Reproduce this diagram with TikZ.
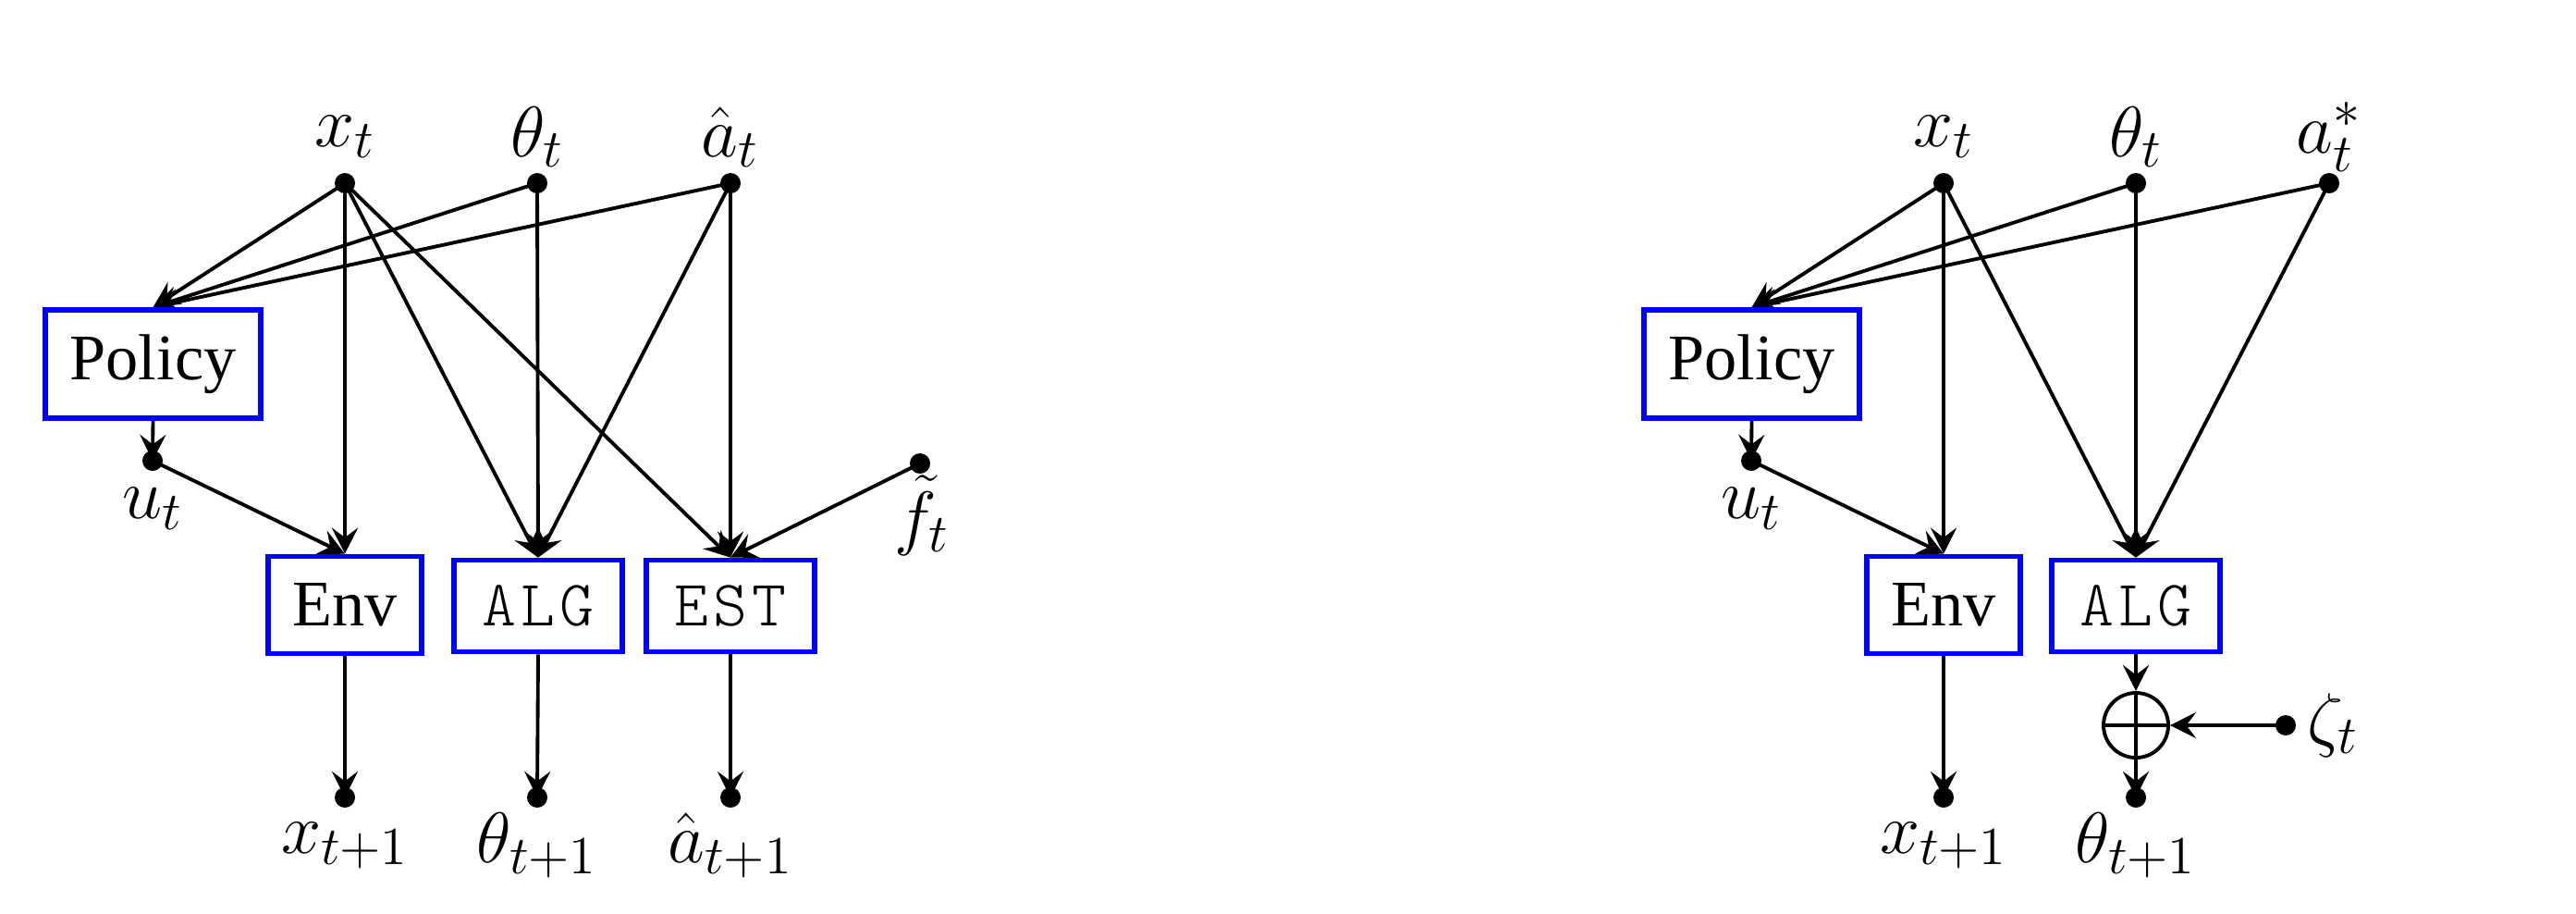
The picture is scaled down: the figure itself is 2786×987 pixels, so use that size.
\RequirePackage{fix-cm}
\documentclass[tikz,border=0pt]{standalone}
\usepackage[no-math]{fontspec}
\setmainfont{Liberation Serif}
\setmonofont{lmmonolt10-regular.otf}[LetterSpace=7]
\DeclareMathSizes{22}{22}{16.5}{12}
\usetikzlibrary{arrows.meta}
\pgfdeclarelayer{bg}
\pgfsetlayers{bg,main}
\begin{document}
\begin{tikzpicture}[x=0.01cm,y=-0.01cm,
  every node/.style={font=\fontsize{20}{24}\selectfont},
  dotn/.style={circle,fill=black,inner sep=0pt,minimum size=0.22cm},
  lab/.style={inner sep=0pt,font=\fontsize{22}{26}\selectfont},
  box/.style={draw=blue,line width=1.6pt,fill=white,inner sep=0pt},
  polbox/.style={box,minimum width=2.33cm,minimum height=1.17cm},
  envbox/.style={box,minimum width=1.66cm,minimum height=1.05cm},
  algbox/.style={box,minimum width=1.82cm,minimum height=0.99cm,font=\fontsize{20}{24}\selectfont\ttfamily},
  conn/.style={-{Stealth[length=8pt,width=8pt,inset=3pt]},line width=1.1pt},
  opl/.style={circle,draw,line width=1.1pt,inner sep=0pt,minimum size=0.7cm}]
\useasboundingbox (0,0) rectangle (2786,987);

% ---------------- left diagram ----------------
\node[dotn] (xt) at (373,198) {};
\node[dotn] (tt) at (581,198) {};
\node[dotn] (at) at (790,198) {};
\node[lab] (lxt) at (373,148) {$x_t$};
\node[lab] (ltt) at (581,148) {$\theta_t$};
\node[lab] (lat) at (790,148) {$\hat a_t$};
\node[polbox] (pol) at (165.5,393.5) {Policy};
\node[dotn] (ut) at (165,498) {};
\node[lab] (lut) at (165,550) {$u_t$};
\node[envbox] (env) at (373,654) {Env};
\node[algbox] (alg) at (582,655) {ALG};
\node[algbox] (est) at (790,655) {EST};
\node[dotn] (ft) at (995,501) {};
\node[lab] (lft) at (997,557) {$\tilde f_t$};
\node[dotn] (xn) at (373,862) {};
\node[dotn] (tn) at (581,862) {};
\node[dotn] (an) at (790,862) {};
\node[lab] (lxn) at (373,914) {$x_{t+1}$};
\node[lab] (ltn) at (581,914) {$\theta_{t+1}$};
\node[lab] (lan) at (790,914) {$\hat a_{t+1}$};

\begin{pgfonlayer}{bg}
\draw[conn] (xt.center) -- (pol.north);
\draw[conn] (tt.center) -- (pol.north);
\draw[conn] (at.center) -- (pol.north);
\draw[conn] (xt.center) -- (env.north);
\draw[conn] (xt.center) -- (alg.north);
\draw[conn] (tt.center) -- (alg.north);
\draw[conn] (at.center) -- (alg.north);
\draw[conn] (xt.center) -- (est.north);
\draw[conn] (at.center) -- (est.north);
\draw[conn] (ft.center) -- (est.north);
\draw[conn] (pol.south) -- (ut.center);
\draw[conn] (ut.center) -- (env.north);
\draw[conn] (env.south) -- (xn.center);
\draw[conn] (alg.south) -- (tn.center);
\draw[conn] (est.south) -- (an.center);
\end{pgfonlayer}

% ---------------- right diagram ----------------
\node[dotn] (rxt) at (2102,198) {};
\node[dotn] (rtt) at (2310,198) {};
\node[dotn] (rat) at (2519,198) {};
\node[lab] (rlxt) at (2102,148) {$x_t$};
\node[lab] (rltt) at (2310,148) {$\theta_t$};
\node[lab] (rlat) at (2519,148) {$a_t^*$};
\node[polbox] (rpol) at (1894.5,393.5) {Policy};
\node[dotn] (rut) at (1894,498) {};
\node[lab] (rlut) at (1894,550) {$u_t$};
\node[envbox] (renv) at (2102,654) {Env};
\node[algbox] (ralg) at (2310,655) {ALG};
\node[opl] (op) at (2310,784) {};
\draw[line width=1.1pt] (op.north) -- (op.south) (op.west) -- (op.east);
\node[dotn] (zt) at (2472,784) {};
\node[lab,anchor=west] (lzt) at (2495,784) {$\zeta_t$};
\node[dotn] (rxn) at (2102,862) {};
\node[dotn] (rtn) at (2310,862) {};
\node[lab] (rlxn) at (2102,914) {$x_{t+1}$};
\node[lab] (rltn) at (2310,914) {$\theta_{t+1}$};

\begin{pgfonlayer}{bg}
\draw[conn] (rxt.center) -- (rpol.north);
\draw[conn] (rtt.center) -- (rpol.north);
\draw[conn] (rat.center) -- (rpol.north);
\draw[conn] (rxt.center) -- (renv.north);
\draw[conn] (rxt.center) -- (ralg.north);
\draw[conn] (rtt.center) -- (ralg.north);
\draw[conn] (rat.center) -- (ralg.north);
\draw[conn] (rpol.south) -- (rut.center);
\draw[conn] (rut.center) -- (renv.north);
\draw[conn] (renv.south) -- (rxn.center);
\draw[conn] (ralg.south) -- (op.north);
\draw[conn] (op.south) -- (rtn.center);
\draw[conn] (zt.center) -- (op.east);
\end{pgfonlayer}
\end{tikzpicture}
\end{document}
